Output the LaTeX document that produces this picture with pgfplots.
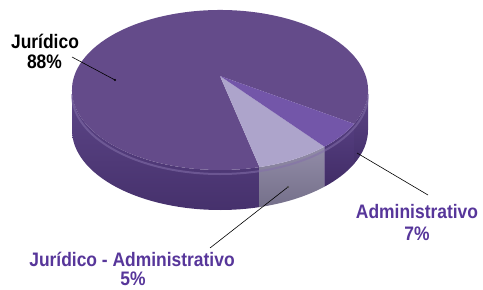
\documentclass[border=0pt]{standalone}
\usepackage{pgfplots}
\pgfplotsset{compat=1.18}
\usepackage{pgfplotstable}
\usepackage{fontspec}
\setmainfont{Liberation Sans}
\definecolor{jurtop}{HTML}{644B8A}
\definecolor{jursideA}{HTML}{5D4688}
\definecolor{jursideB}{HTML}{45306B}
\definecolor{ltop}{HTML}{ADA4CB}
\definecolor{lsideA}{HTML}{928CA8}
\definecolor{lsideB}{HTML}{75708A}
\definecolor{mtop}{HTML}{7356A9}
\definecolor{msideA}{HTML}{553E80}
\definecolor{msideB}{HTML}{412C66}
\definecolor{labpurple}{HTML}{57369A}
\definecolor{bevel}{HTML}{8470AA}

% slices in angular order (share of the circle, in percent)
\pgfplotstableread{
slice value
light 7
medium 5
juridico 88
}\slices

\newcommand{\phiof}[2]{%
  \pgfmathsetmacro{\den}{1+0.175*sin(#2)}%
  \pgfmathsetmacro{\uu}{145.7*cos(#2)/\den}%
  \pgfmathsetmacro{\vv}{77.6*sin(#2)/\den}%
  \pgfmathsetmacro{#1}{atan2((\vv+14)/80,\uu/148)}}

\newcommand{\sidewall}[3]{%
  \shade[#1] (axis cs:{220+148*cos(#2)},{199+80*sin(#2)})
    arc[start angle=#2,end angle=#3,x radius=148bp,y radius=80bp]
    -- ++(0,-40bp)
    arc[start angle=#3,end angle=#2,x radius=148bp,y radius=80bp] -- cycle;}

\newcommand{\piewedge}[3]{%
  \fill[#1] (axis cs:220,213) -- (axis cs:{220+148*cos(#2)},{199+80*sin(#2)})
    arc[start angle=#2,end angle=#3,x radius=148bp,y radius=80bp] -- cycle;}

\newcommand{\lab}[1]{\scalebox{1}[1.12]{#1}}
\tikzset{lbl/.style={anchor=base,font=\fontsize{17.5}{20}\selectfont\bfseries,inner sep=0pt}}

\begin{document}
\begin{tikzpicture}
\pgfplotstablegetelem{0}{value}\of\slices \let\vA\pgfplotsretval
\pgfplotstablegetelem{1}{value}\of\slices \let\vB\pgfplotsretval
\pgfmathsetmacro{\tA}{-77}
\pgfmathsetmacro{\tB}{\tA+3.6*\vA}
\pgfmathsetmacro{\tC}{\tB+3.6*\vB}
\phiof{\pA}{\tA}
\phiof{\pB}{\tB}
\phiof{\pC}{\tC}
\pgfmathsetmacro{\pAw}{\pA+360}
\begin{axis}[name=pie,x=1bp,y=1bp,xmin=0,xmax=483,ymin=0,ymax=289,
  axis lines=none,clip=false]
% side walls
\sidewall{top color=jursideA,bottom color=jursideB}{-180}{\pA}
\sidewall{top color=lsideA,bottom color=lsideB}{\pA}{\pB}
\sidewall{top color=msideA,bottom color=msideB}{\pB}{\pC}
\sidewall{top color=jursideA,bottom color=jursideB}{\pC}{0}
% bevel highlight
\draw[bevel,line width=2bp,opacity=0.55] (axis cs:72,195) arc[start angle=180,end angle=360,x radius=148bp,y radius=80bp];
% top faces
\piewedge{jurtop}{\pC}{\pAw}
\piewedge{ltop}{\pA}{\pB}
\piewedge{mtop}{\pB}{\pC}
% leader lines
\draw[black,line width=0.6bp] (axis cs:72,232) -- (axis cs:115,209);
\fill[black] (axis cs:115,209) circle[radius=1.2bp];
\draw[black,line width=0.6bp] (axis cs:357,136) -- (axis cs:428,94);
\draw[black,line width=0.6bp] (axis cs:288,102) -- (axis cs:210,41);
\fill[black!70] (axis cs:288,102) circle[radius=1.2bp];
% labels
\node[lbl,text=black] at (axis cs:45,241) {\lab{Jurídico}};
\node[lbl,text=black] at (axis cs:44.5,221) {\lab{88\%}};
\node[lbl,text=labpurple] at (axis cs:417,71) {\lab{Administrativo}};
\node[lbl,text=labpurple] at (axis cs:417,49) {\lab{7\%}};
\node[lbl,text=labpurple] at (axis cs:132,23) {\lab{Jurídico - Administrativo}};
\node[lbl,text=labpurple] at (axis cs:133,4) {\lab{5\%}};
\end{axis}
\pgfresetboundingbox
\path[use as bounding box] (pie.south west) rectangle (pie.north east);
\end{tikzpicture}
\end{document}
